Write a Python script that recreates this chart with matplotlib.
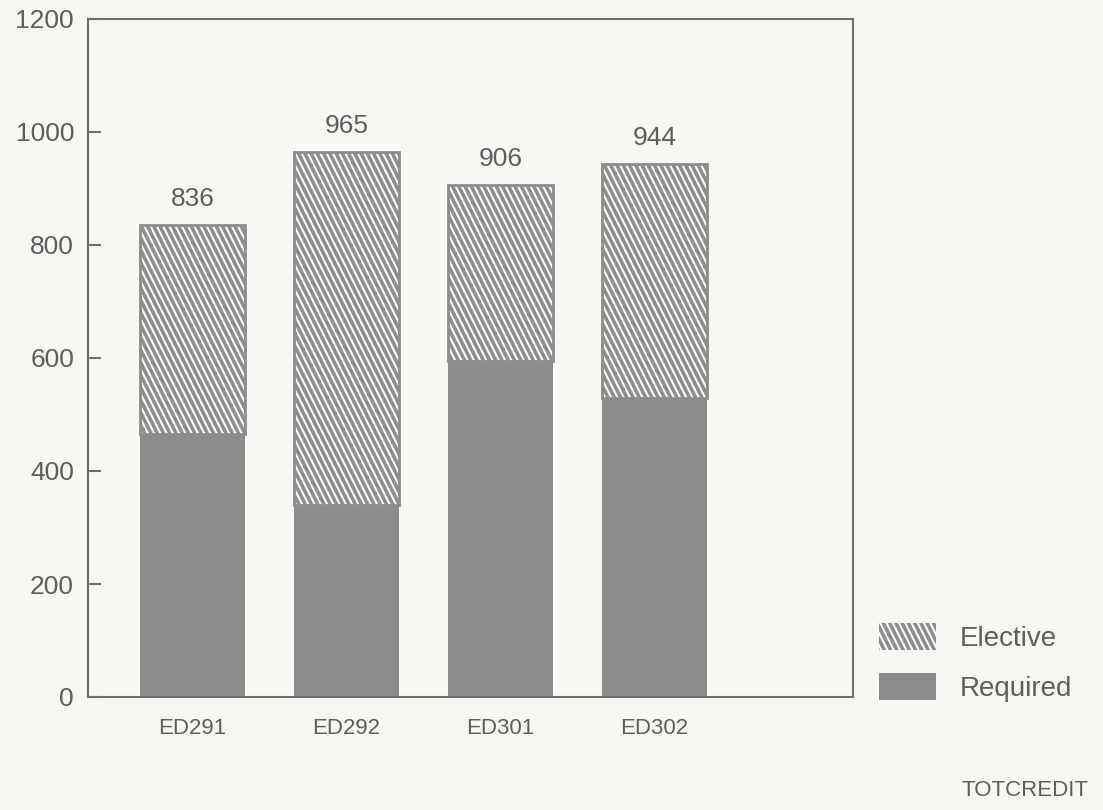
import matplotlib
matplotlib.use("Agg")
import numpy as np
import matplotlib.pyplot as plt
from matplotlib import hatch as mhatch
from matplotlib.path import Path
from matplotlib.patches import Patch

categories = ["ED291", "ED292", "ED301", "ED302"]
required = [465, 340, 595, 530]
totals = [836, 965, 906, 944]
elective = [t - r for t, r in zip(totals, required)]
yticks = [0, 200, 400, 600, 800, 1000, 1200]


# steeper "\" hatch, like the scanned original
class SteepNWHatch(mhatch.HatchPatternBase):
    def __init__(self, hatch, density):
        self.n = 16 * hatch.count('\\')
        if self.n:
            self.k = np.arange(-self.n // 2, self.n + 1)
            self.num_vertices = len(self.k) * 2
        else:
            self.num_vertices = 0

    def set_vertices_and_codes(self, vertices, codes):
        c = self.k / self.n
        vertices[0::2, 0] = c
        vertices[0::2, 1] = 1.0
        vertices[1::2, 0] = c + 0.5
        vertices[1::2, 1] = 0.0
        codes[0::2] = Path.MOVETO
        codes[1::2] = Path.LINETO


mhatch._hatch_types = [SteepNWHatch if t.__name__ == "SouthEastHatch" else t
                       for t in mhatch._hatch_types]

plt.rcParams['font.family'] = ['Liberation Sans', 'DejaVu Sans']
plt.rcParams['hatch.linewidth'] = 1.5

bg = "#f8f7f3"
gray = "#8c8c8c"
txt = "#5e5e5e"
axc = "#6e6e6e"

fig = plt.figure(figsize=(11.03, 8.10), dpi=100, facecolor=bg)
ax = fig.add_axes([88/1103, 1-697/810, (853-88)/1103, (697-19)/810])
ax.set_facecolor(bg)

x = list(range(len(categories)))
w = 0.68
ax.bar(x, required, width=w, color=gray, edgecolor=gray, linewidth=0)
ax.bar(x, elective, bottom=required, width=w, color=gray, edgecolor="white",
       hatch="\\", linewidth=0)
ax.bar(x, elective, bottom=required, width=w, color="none", edgecolor=gray, linewidth=2)

for xi, t in zip(x, totals):
    ax.annotate(str(t), (xi, t), xytext=(0, 10), textcoords="offset points",
                ha="center", va="bottom", fontsize=19, color=txt)

ax.set_xlim(-0.68, 4.29)
ax.set_ylim(0, 1200)
ax.set_yticks(yticks)
ax.set_yticklabels([str(v) for v in yticks])
ax.set_xticks(x)
ax.set_xticklabels(categories)
ax.tick_params(axis="y", direction="in", length=9, width=1.5, color=axc,
               labelsize=19, labelcolor=txt, pad=10)
ax.tick_params(axis="x", length=0, labelsize=16, labelcolor=txt, pad=15)
for s in ax.spines.values():
    s.set_color(axc)
    s.set_linewidth(1.5)

handles = [Patch(facecolor=gray, edgecolor="white", hatch="\\", linewidth=0, label="Elective"),
           Patch(facecolor=gray, edgecolor=gray, linewidth=0, label="Required")]
leg = fig.legend(handles=handles, loc="lower left", bbox_to_anchor=(879/1103, 1-702/810),
                 frameon=False, fontsize=20, handlelength=2.05, handleheight=1.15,
                 handletextpad=0.85, labelspacing=0.75, borderaxespad=0, borderpad=0)
for t in leg.get_texts():
    t.set_color(txt)

fig.text(1088/1103, 1-790/810, "TOTCREDIT", ha="right", va="center", fontsize=16,
         color=txt)

fig.savefig("out.png", dpi=100, facecolor=bg)
